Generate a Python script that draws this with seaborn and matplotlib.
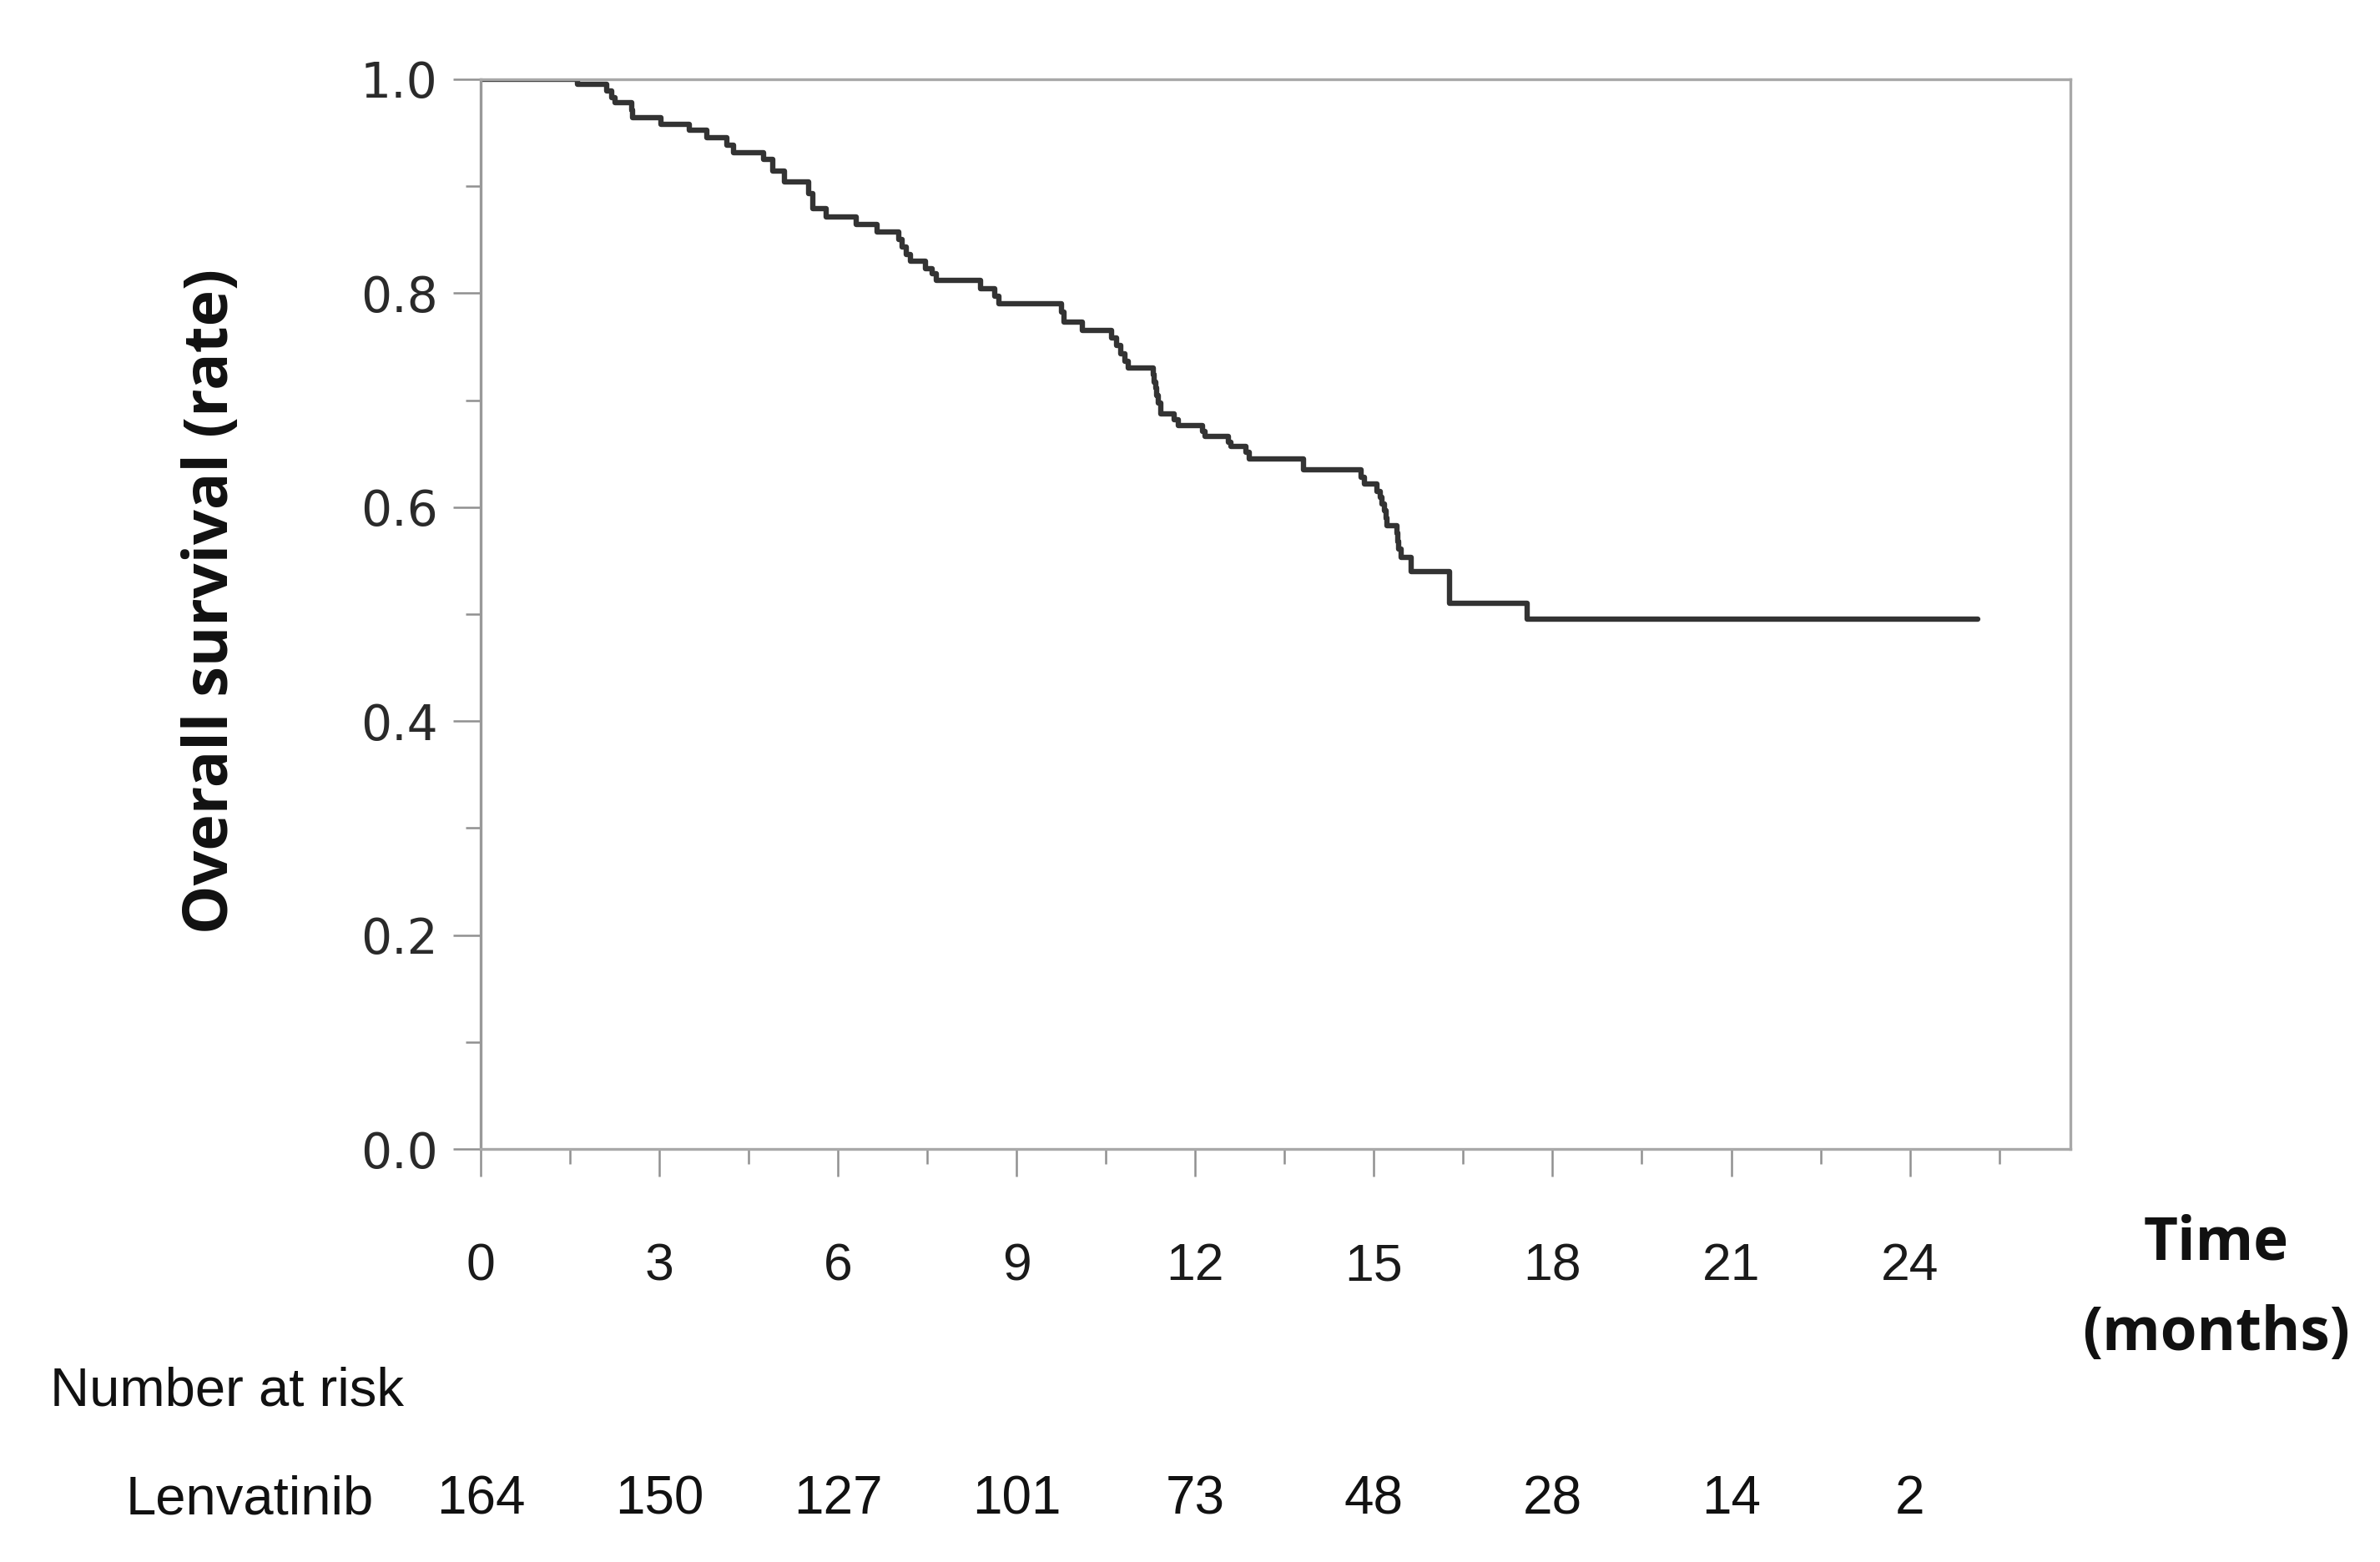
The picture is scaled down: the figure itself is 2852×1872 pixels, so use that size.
import matplotlib
matplotlib.use('Agg')
import matplotlib.pyplot as plt
import matplotlib.transforms as mtransforms
import numpy as np
import pandas as pd
import seaborn as sns

# ── Data (step change points) ─────────────────────────────────────────────
months = [0.00, 1.63, 2.12, 2.20, 2.25, 2.53, 2.55, 3.03, 3.50, 3.80, 4.13, 4.25,
          4.75, 4.90, 5.10, 5.50, 5.58, 5.80, 6.30, 6.65, 7.02, 7.08, 7.15, 7.22,
          7.47, 7.58, 7.65, 8.40, 8.63, 8.70, 9.75, 9.79, 10.10, 10.60, 10.68,
          10.75, 10.82, 10.88, 11.29, 11.31, 11.33, 11.35, 11.38, 11.42, 11.65,
          11.72, 12.12, 12.16, 12.55, 12.60, 12.85, 12.90, 13.82, 14.78, 14.84,
          15.05, 15.10, 15.13, 15.17, 15.20, 15.22, 15.38, 15.40, 15.42, 15.45,
          15.63, 16.27, 17.58, 25.14]
survival = [1.000, 0.995, 0.989, 0.983, 0.978, 0.971, 0.964, 0.958, 0.952, 0.945, 0.938, 0.931,
            0.925, 0.914, 0.904, 0.893, 0.879, 0.871, 0.864, 0.857, 0.850, 0.843, 0.836, 0.830,
            0.823, 0.818, 0.812, 0.804, 0.797, 0.790, 0.782, 0.773, 0.765, 0.758, 0.751,
            0.743, 0.736, 0.730, 0.724, 0.717, 0.711, 0.704, 0.697, 0.687, 0.682,
            0.676, 0.671, 0.666, 0.661, 0.657, 0.651, 0.645, 0.635, 0.628, 0.622,
            0.615, 0.609, 0.603, 0.597, 0.590, 0.583, 0.576, 0.568, 0.561, 0.553,
            0.540, 0.510, 0.495, 0.495]

risk_times = [0, 3, 6, 9, 12, 15, 18, 21, 24]
risk_counts = [164, 150, 127, 101, 73, 48, 28, 14, 2]
risk_group = 'Lenvatinib'

df = pd.DataFrame({'month': months, 'surv': survival})

sns.set_style('white')
plt.rcParams['font.family'] = ['Liberation Sans', 'DejaVu Sans']

fig = plt.figure(figsize=(28.52, 18.72), dpi=100)
ax = fig.add_axes([0.202, 0.2644, 0.668, 0.6849])

sns.lineplot(data=df, x='month', y='surv', drawstyle='steps-post', estimator=None,
             color='#333333', linewidth=4.6, ax=ax)

ax.set_xlim(0, 26.7)
ax.set_ylim(0, 1.0)
ax.set_xticks(risk_times)
ax.set_xticks(np.arange(1.5, 26, 3), minor=True)
ax.set_yticks([0.0, 0.2, 0.4, 0.6, 0.8, 1.0])
ax.set_yticks([0.1, 0.3, 0.5, 0.7, 0.9], minor=True)
ax.set_yticklabels(['0.0', '0.2', '0.4', '0.6', '0.8', '1.0'],
                   fontfamily='DejaVu Sans', fontsize=42, color='#2a2a2a')
ax.set_xticklabels([str(t) for t in risk_times], fontfamily='Liberation Sans',
                   fontsize=45, color='#1a1a1a')
ax.tick_params(axis='both', which='both', bottom=True, left=True, top=False, right=False)
ax.tick_params(axis='both', which='major', direction='out', length=24, width=1.8,
               color='#909090')
ax.tick_params(axis='both', which='minor', direction='out', length=13, width=1.8,
               color='#909090')
ax.tick_params(axis='x', which='major', pad=56)
ax.tick_params(axis='y', which='major', pad=13)
ax.set_xlabel('')
ax.set_ylabel('')
for side, sp in ax.spines.items():
    sp.set_visible(True)
    sp.set_color('#a8a8a8')
    sp.set_linewidth(2.4)
ax.spines['left'].set_color('#999999')

fig.text(0.089, 0.615, 'Overall survival (rate)', rotation=90, ha='center', va='center',
         fontsize=53, fontweight='bold', fontfamily='Open Sans', color='#111111')
fig.text(0.931, 0.204, 'Time', ha='center', va='center', fontsize=51,
         fontweight='bold', fontfamily='Open Sans', color='#111111')
fig.text(0.931, 0.146, '(months)', ha='center', va='center', fontsize=51,
         fontweight='bold', fontfamily='Open Sans', color='#111111')

fig.text(0.021, 0.109, 'Number at risk', ha='left', va='center', fontsize=47, color='#111111')
fig.text(0.157, 0.040, risk_group, ha='right', va='center', fontsize=47, color='#111111')
trans = mtransforms.blended_transform_factory(ax.transData, fig.transFigure)
for t, n in zip(risk_times, risk_counts):
    ax.text(t, 0.040, str(n), transform=trans, ha='center', va='center',
            fontsize=46, color='#111111', clip_on=False)

fig.savefig('out.png', dpi=100, facecolor='white')
